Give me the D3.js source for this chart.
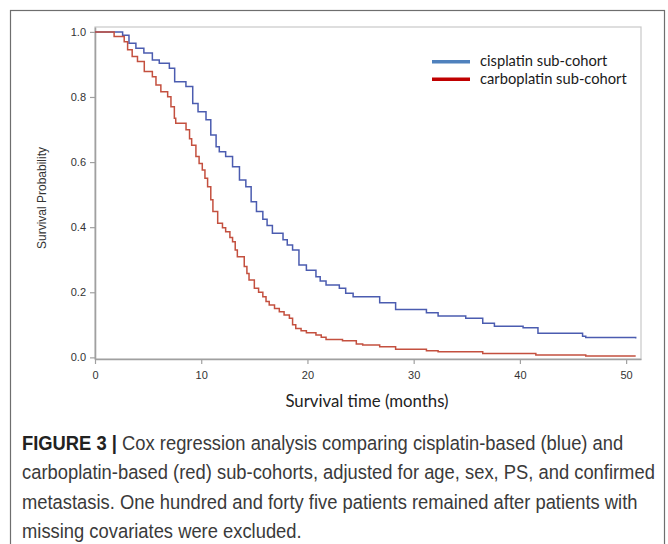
<!DOCTYPE html>
<html>
<head>
<meta charset="utf-8">
<script src="https://cdn.jsdelivr.net/npm/d3@7"></script>
<style>
  body { margin: 0; background: #fff; }
  svg { display: block; }
</style>
</head>
<body>
<svg id="chart" width="668" height="544"></svg>
<script>
// Kaplan-Meier style step curves (months, survival probability)
const cisplatinTime = [0, 2.6, 3.2, 3.85, 4.6, 5.4, 6.05, 7.0, 7.5, 8.56, 9.2, 9.7, 10.45, 10.9, 11.4, 11.7, 12.3, 12.95, 13.6, 14.2, 14.7, 15.2, 15.8, 16.2, 16.7, 17.7, 18.1, 18.6, 19.2, 19.9, 20.8, 21.2, 21.75, 23.0, 23.6, 24.3, 26.8, 28.3, 31.2, 32.3, 34.9, 36.5, 37.6, 40.3, 41.7, 45.9, 46.2, 50.9];
const cisplatinSurv = [1.0, 0.99, 0.965, 0.95, 0.935, 0.914, 0.904, 0.888, 0.847, 0.832, 0.78, 0.755, 0.73, 0.683, 0.647, 0.632, 0.617, 0.586, 0.545, 0.524, 0.478, 0.448, 0.424, 0.405, 0.381, 0.361, 0.345, 0.33, 0.284, 0.268, 0.248, 0.235, 0.222, 0.212, 0.197, 0.186, 0.168, 0.147, 0.137, 0.127, 0.12, 0.105, 0.096, 0.091, 0.074, 0.065, 0.061, 0.058];

const carboplatinTime = [0, 1.8, 2.75, 3.07, 3.5, 4.0, 4.64, 5.4, 5.74, 6.2, 6.84, 7.15, 7.47, 7.6, 8.57, 8.9, 9.1, 9.5, 9.8, 10.1, 10.35, 10.6, 10.9, 11.1, 11.55, 12.0, 12.3, 12.7, 12.95, 13.2, 13.4, 14.05, 14.3, 14.5, 15.0, 15.4, 15.8, 16.1, 16.4, 16.9, 17.35, 17.8, 18.3, 18.6, 18.9, 19.4, 19.9, 20.8, 21.3, 21.75, 23.3, 24.6, 25.2, 26.8, 28.3, 31.2, 32.3, 36.5, 41.5, 46.2, 50.9];
const carboplatinSurv = [1.0, 0.986, 0.97, 0.945, 0.924, 0.909, 0.878, 0.862, 0.837, 0.816, 0.801, 0.77, 0.735, 0.719, 0.699, 0.672, 0.652, 0.617, 0.596, 0.576, 0.55, 0.524, 0.484, 0.448, 0.412, 0.398, 0.386, 0.368, 0.355, 0.33, 0.309, 0.279, 0.258, 0.238, 0.212, 0.2, 0.186, 0.172, 0.161, 0.15, 0.14, 0.13, 0.12, 0.1, 0.089, 0.082, 0.076, 0.069, 0.062, 0.055, 0.051, 0.041, 0.038, 0.033, 0.025, 0.02, 0.017, 0.012, 0.007, 0.004, 0.004];

const seriesNames = ['cisplatin sub-cohort', 'carboplatin sub-cohort'];
const xTicks = [0, 10, 20, 30, 40, 50];
const yTicks = [0.0, 0.2, 0.4, 0.6, 0.8, 1.0];

const captionLines = [
  ['FIGURE 3 | ', 'Cox regression analysis comparing cisplatin-based (blue) and'],
  ['', 'carboplatin-based (red) sub-cohorts, adjusted for age, sex, PS, and confirmed'],
  ['', 'metastasis. One hundred and forty five patients remained after patients with'],
  ['', 'missing covariates were excluded.'],
];

const svg = d3.select('#chart');

// outer figure frame
svg.append('rect')
  .attr('x', 10.5).attr('y', 10.5)
  .attr('width', 654).attr('height', 560)
  .attr('fill', 'none')
  .attr('stroke', '#6e6e6e')
  .attr('stroke-width', 1.2);

const plot = { left: 95, right: 641, top: 27, bottom: 359 };

const x = d3.scaleLinear().domain([0, 51.4]).range([plot.left, plot.right]);
const y = d3.scaleLinear().domain([-0.005, 1.015]).range([plot.bottom, plot.top]);

// plot frame (light) on top and right
svg.append('rect')
  .attr('x', plot.left).attr('y', plot.top)
  .attr('width', plot.right - plot.left).attr('height', plot.bottom - plot.top)
  .attr('fill', 'none')
  .attr('stroke', '#c8c8c8')
  .attr('stroke-width', 1.2);

const xAxis = svg.append('g')
  .attr('transform', `translate(0,${plot.bottom})`)
  .call(d3.axisBottom(x).tickValues(xTicks).tickFormat(d3.format('d')).tickSize(5).tickSizeOuter(0));

const yAxis = svg.append('g')
  .attr('transform', `translate(${plot.left},0)`)
  .call(d3.axisLeft(y).tickValues(yTicks).tickFormat(d3.format('.1f')).tickSize(5).tickSizeOuter(0));

[xAxis, yAxis].forEach(g => {
  g.select('.domain').attr('stroke', '#a0a0a0').attr('stroke-width', 1.6);
  g.selectAll('.tick line').attr('stroke', '#a0a0a0').attr('stroke-width', 1.2);
  g.selectAll('.tick text')
    .attr('fill', '#333')
    .style('font-family', 'Arial, "Liberation Sans", sans-serif')
    .style('font-size', '11px');
});
xAxis.selectAll('.tick text').attr('y', 12);
yAxis.selectAll('.tick text').attr('x', -9);

// axis titles
svg.append('text')
  .attr('x', 367).attr('y', 407)
  .attr('text-anchor', 'middle')
  .attr('fill', '#222')
  .style('font-family', 'Lato, "Open Sans", sans-serif')
  .style('font-size', '16.8px')
  .text('Survival time (months)');

svg.append('text')
  .attr('transform', 'translate(46,198) rotate(-90)')
  .attr('text-anchor', 'middle')
  .attr('fill', '#333')
  .style('font-family', 'Arial, "Liberation Sans", sans-serif')
  .style('font-size', '12px')
  .text('Survival Probability');

// survival curves
const curveColors = ['#4b5cb0', '#c4503f'];
const curves = [
  d3.zip(cisplatinTime, cisplatinSurv),
  d3.zip(carboplatinTime, carboplatinSurv),
];
const line = d3.line()
  .x(d => x(d[0]))
  .y(d => y(d[1]))
  .curve(d3.curveStepAfter);

svg.append('g')
  .selectAll('path')
  .data(curves)
  .join('path')
  .attr('d', line)
  .attr('fill', 'none')
  .attr('stroke', (d, i) => curveColors[i])
  .attr('stroke-width', 1.5);

// legend
const legendColors = ['#4f81bd', '#c00000'];
const legend = svg.append('g')
  .selectAll('g')
  .data(seriesNames)
  .join('g')
  .attr('transform', (d, i) => `translate(432,${61.7 + i * 17.6})`);

legend.append('line')
  .attr('x1', 0).attr('x2', 38)
  .attr('stroke', (d, i) => legendColors[i])
  .attr('stroke-width', 3.5);

legend.append('text')
  .attr('x', 48).attr('dy', '0.32em')
  .attr('fill', '#1a1a1a')
  .style('font-family', 'Lato, "Open Sans", sans-serif')
  .style('font-size', '14.7px')
  .text(d => d);

// caption: condensed look made by squeezing a regular sans horizontally
const caption = svg.append('g')
  .style('font-family', 'Arial, "Liberation Sans", sans-serif')
  .style('font-size', '19.5px')
  .attr('fill', '#3a3a3a');

const captionTexts = captionLines.map((parts, i) => {
  const t = caption.append('text')
    .attr('x', 0)
    .attr('y', 450 + i * 29.5);
  if (parts[0]) {
    t.append('tspan').attr('font-weight', 'bold').attr('fill', '#222').text(parts[0]);
  }
  t.append('tspan').text(parts[1]);
  return t;
});

// widest line should run from x=22 to about x=655
const widest = d3.max(captionTexts, t => t.node().getComputedTextLength());
const sx = 633 / widest;
caption.attr('transform', `translate(22,0) scale(${sx},1)`);
</script>
</body>
</html>
